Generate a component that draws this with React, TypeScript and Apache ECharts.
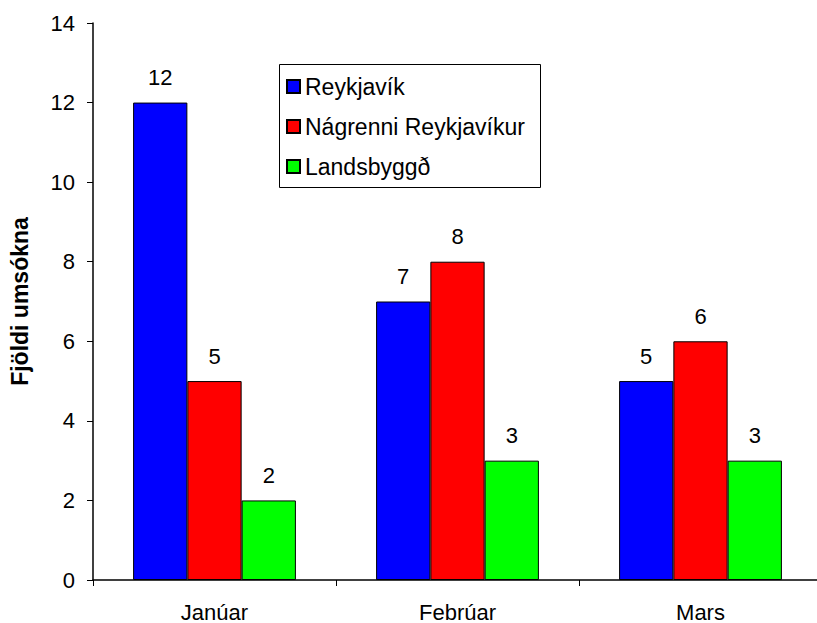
import React, { useEffect, useRef } from "react";
import * as echarts from "echarts";

const categories = ["Janúar", "Febrúar", "Mars"];
const reykjavik = [12, 7, 5];
const nagrenni = [5, 8, 6];
const landsbyggd = [2, 3, 3];
const seriesNames = ["Reykjavík", "Nágrenni Reykjavíkur", "Landsbyggð"];
const colors = ["#0000FF", "#FF0000", "#00FF00"];

const FONT = "'Liberation Sans', Arial, sans-serif";
const FS = 22;

export default function App() {
  const ref = useRef<HTMLDivElement>(null);
  useEffect(() => {
    if (!ref.current) return;
    const chart = echarts.init(ref.current, undefined, { renderer: "svg" });
    const data = [reykjavik, nagrenni, landsbyggd];
    chart.setOption({
      animation: false,
      backgroundColor: "#fff",
      textStyle: { fontFamily: FONT },
      grid: { left: 93, top: 23, width: 729, height: 557, containLabel: false, outerBoundsMode: "none" },
      legend: {
        orient: "vertical",
        left: 281,
        top: 69,
        icon: "rect",
        itemWidth: 13,
        itemHeight: 13,
        itemGap: 15,
        itemTextGap: 8,
        padding: 5,
        textStyle: { fontFamily: FONT, fontSize: 23, color: "#000", lineHeight: 25 },
        data: seriesNames,
      },
      graphic: [
        {
          type: "rect",
          left: 277,
          top: 62,
          shape: { width: 261, height: 123 },
          style: { fill: "none", stroke: "#000", lineWidth: 1 },
          z: 0,
        },
      ],
      xAxis: {
        type: "category",
        data: categories,
        axisLine: { lineStyle: { color: "#000", width: 1.5 } },
        axisTick: { show: true, inside: false, length: 6, alignWithLabel: false, lineStyle: { color: "#000" } },
        axisLabel: { fontSize: FS, color: "#000", fontFamily: FONT, margin: 21 },
        splitLine: { show: false },
      },
      yAxis: {
        type: "value",
        min: 0,
        max: 14,
        interval: 2,
        name: "Fjöldi umsókna",
        nameLocation: "middle",
        nameGap: 62,
        nameRotate: 90,
        nameTextStyle: { fontSize: 23, fontWeight: "bold", color: "#000", fontFamily: FONT },
        axisLine: { show: true, lineStyle: { color: "#000", width: 1.5 } },
        axisTick: { show: true, inside: false, length: 6, lineStyle: { color: "#000" } },
        axisLabel: { fontSize: FS, color: "#000", fontFamily: FONT, margin: 18 },
        splitLine: { show: false },
      },
      series: seriesNames.map((name, i) => ({
        name,
        type: "bar",
        data: data[i],
        barGap: "0%",
        barCategoryGap: "33%",
        itemStyle: { color: colors[i], borderColor: "#000", borderWidth: 1 },
        label: {
          show: true,
          position: "top",
          distance: 14,
          fontSize: FS,
          color: "#000",
          fontFamily: FONT,
        },
      })),
    });
    return () => chart.dispose();
  }, []);
  return <div ref={ref} style={{ width: 817, height: 623, position: "absolute", left: 0, top: 0 }} />;
}
